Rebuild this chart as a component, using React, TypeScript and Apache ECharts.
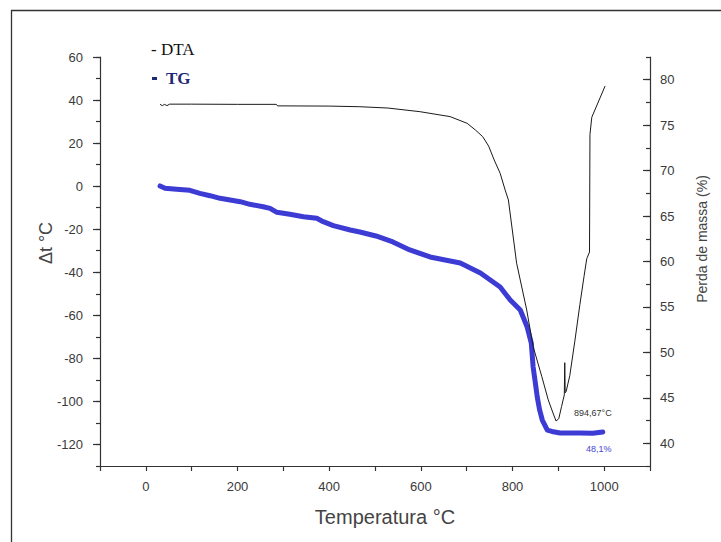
import React, { useEffect, useRef } from "react";
import * as echarts from "echarts";

// DTA curve: [temperature °C, Δt °C]
const dtaData: [number, number][] = [
  [31, 38.0], [36, 37.4], [41, 38.0], [46, 37.4], [52, 38.1], [100, 38.1], [200, 38.0],
  [284, 38.0], [288, 37.3], [400, 37.2], [467, 36.9], [528, 36.3], [598, 34.6],
  [664, 32.3], [701, 29.2], [719, 26.1], [735, 23.0], [748, 18.6], [760, 12.2], [773, 6.0],
  [784, -1.8], [791, -6.4], [809, -35.8], [831, -57.5], [845, -74.5], [864, -88.5],
  [878, -99.3], [886, -104], [895, -109.1], [901, -108], [907, -102.4], [913, -97],
  [914, -82], [915, -96], [917, -95.4], [925, -88], [936, -72], [947, -55],
  [956, -42], [962, -33.7], [968, -30.6], [969, 24], [973, 32], [1002, 46.5],
];

// TG curve: [temperature °C, mass %]
const tgData: [number, number][] = [
  [31, 68.31], [42, 68.05], [67, 67.94], [96, 67.83], [118, 67.5], [140, 67.24],
  [162, 66.95], [184, 66.77], [206, 66.58], [227, 66.29], [256, 66.03], [271, 65.85],
  [286, 65.41], [314, 65.19], [344, 64.93], [373, 64.75], [387, 64.38], [409, 63.94],
  [446, 63.47], [467, 63.25], [502, 62.81], [539, 62.15], [576, 61.27], [620, 60.5],
  [686, 59.84], [730, 58.74], [773, 57.2], [795, 55.76], [817, 54.66], [832, 52.79],
  [841, 51.03], [845, 48.39], [850, 46.6], [854, 45.09], [859, 43.7], [865, 42.56],
  [876, 41.46], [886, 41.3], [904, 41.13], [947, 41.13], [975, 41.1], [997, 41.24],
];

const xTicks = { min: -100, max: 1100, step: 100, labelStep: 200 };
const leftTicks = { min: -120, max: 60, step: 20 };
const rightTicks = { min: 40, max: 80, step: 5 };

const legendLabels = { dta: "- DTA", tg: "TG" };
const axisNames = { x: "Temperatura °C", left: "Δt °C", right: "Perda de massa (%)" };
const annotations = { peak: "894,67°C", loss: "48,1%" };

export default function App() {
  const ref = useRef<HTMLDivElement>(null);

  useEffect(() => {
    document.body.style.margin = "0";
    if (!ref.current) return;
    const chart = echarts.init(ref.current, null, { renderer: "svg" });

    const H = 542;
    const top = 57;
    const bottom = 76;
    const plotH = H - top - bottom; // 409
    const leftMin = -130, leftMax = 60;
    const rightMin = 37.5, rightMax = 82.5;
    const pxL = plotH / (leftMax - leftMin);
    const pxR = plotH / (rightMax - rightMin);
    const yLeftMajBottom = top + (leftMax - leftTicks.min) * pxL;
    const yRightTop = top + (rightMax - rightTicks.max) * pxR;
    const yRightBottom = top + (rightMax - rightTicks.min) * pxR;

    const labelFont = { fontFamily: "Liberation Sans, Arial, sans-serif", fontSize: 13, color: "#3a3a3a" };
    const axisLineStyle = { color: "#333", width: 1.2 };

    chart.setOption({
      animation: false,
      grid: [
        { left: 100, right: 71, top, bottom },
        { left: 100, right: 71, top, bottom: H - yLeftMajBottom },
        { left: 100, right: 71, top: yRightTop, bottom: H - yRightBottom },
      ],
      xAxis: [
        {
          type: "value", gridIndex: 0, min: xTicks.min, max: xTicks.max, interval: xTicks.step,
          axisLine: { onZero: false, lineStyle: axisLineStyle },
          axisTick: { length: 5, lineStyle: axisLineStyle },
          axisLabel: {
            ...labelFont, margin: 14,
            formatter: (v: number) => (v % xTicks.labelStep === 0 ? String(v) : ""),
          },
          splitLine: { show: false },
        },
        { type: "value", gridIndex: 1, min: xTicks.min, max: xTicks.max, show: false, axisLine: { onZero: false } },
        { type: "value", gridIndex: 2, min: xTicks.min, max: xTicks.max, show: false, axisLine: { onZero: false } },
      ],
      yAxis: [
        {
          type: "value", gridIndex: 0, position: "left", min: leftMin, max: leftMax, interval: 10,
          axisLine: { show: true, onZero: false, lineStyle: axisLineStyle },
          axisTick: { show: true, length: 4, lineStyle: axisLineStyle },
          axisLabel: { show: false },
          splitLine: { show: false },
        },
        {
          type: "value", gridIndex: 0, position: "right", min: rightMin, max: rightMax, interval: 2.5,
          axisLine: { show: true, onZero: false, lineStyle: axisLineStyle },
          axisTick: { show: true, inside: true, length: 4, lineStyle: axisLineStyle },
          axisLabel: { show: false },
          splitLine: { show: false },
        },
        {
          type: "value", gridIndex: 1, position: "left", min: leftTicks.min, max: leftTicks.max,
          interval: leftTicks.step,
          axisLine: { show: false, onZero: false },
          axisTick: { show: true, length: 7, lineStyle: axisLineStyle },
          axisLabel: { ...labelFont, margin: 17 },
          splitLine: { show: false },
        },
        {
          type: "value", gridIndex: 2, position: "right", min: rightTicks.min, max: rightTicks.max,
          interval: rightTicks.step,
          axisLine: { show: false, onZero: false },
          axisTick: { show: true, inside: true, length: 7, lineStyle: axisLineStyle },
          axisLabel: { ...labelFont, margin: 10 },
          splitLine: { show: false },
        },
      ],
      series: [
        {
          name: "DTA", type: "line", xAxisIndex: 0, yAxisIndex: 0, data: dtaData,
          showSymbol: false, lineStyle: { color: "#1a1a1a", width: 1 }, z: 3,
        },
        {
          name: "TG", type: "line", xAxisIndex: 0, yAxisIndex: 1, data: tgData,
          showSymbol: false, lineStyle: { color: "#3c3cd4", width: 5, join: "round", cap: "round" }, z: 2,
        },
      ],
      graphic: [
        {
          type: "rect", shape: { x: 11.5, y: 10.5, width: 760, height: 600 },
          style: { fill: "rgba(0,0,0,0)", stroke: "#333", lineWidth: 1.3 }, silent: true,
        },
        {
          type: "text", x: 151, y: 49,
          style: { text: legendLabels.dta, font: "17px 'Liberation Serif', serif", fill: "#111", textVerticalAlign: "middle" },
        },
        { type: "rect", shape: { x: 152, y: 77, width: 5, height: 3 }, style: { fill: "#1e2a78" } },
        {
          type: "text", x: 166, y: 78,
          style: { text: legendLabels.tg, font: "bold 17px 'Liberation Serif', serif", fill: "#1e2a78", textVerticalAlign: "middle" },
        },
        {
          type: "text", x: 46, y: 243, rotation: Math.PI / 2,
          style: { text: axisNames.left, font: "18px 'Liberation Sans', Arial, sans-serif", fill: "#444", textAlign: "center", textVerticalAlign: "middle" },
        },
        {
          type: "text", x: 702, y: 239, rotation: Math.PI / 2,
          style: { text: axisNames.right, font: "14px 'Liberation Sans', Arial, sans-serif", fill: "#444", textAlign: "center", textVerticalAlign: "middle" },
        },
        {
          type: "text", x: 385, y: 517,
          style: { text: axisNames.x, font: "20px 'Liberation Sans', Arial, sans-serif", fill: "#444", textAlign: "center", textVerticalAlign: "middle" },
        },
        {
          type: "text", x: 574, y: 413,
          style: { text: annotations.peak, font: "9px 'Liberation Sans', Arial, sans-serif", fill: "#333", textVerticalAlign: "middle" },
        },
        {
          type: "text", x: 586, y: 449,
          style: { text: annotations.loss, font: "9px 'Liberation Sans', Arial, sans-serif", fill: "#4646d2", textVerticalAlign: "middle" },
        },
      ],
    });

    return () => chart.dispose();
  }, []);

  return <div ref={ref} style={{ width: 721, height: 542 }} />;
}
